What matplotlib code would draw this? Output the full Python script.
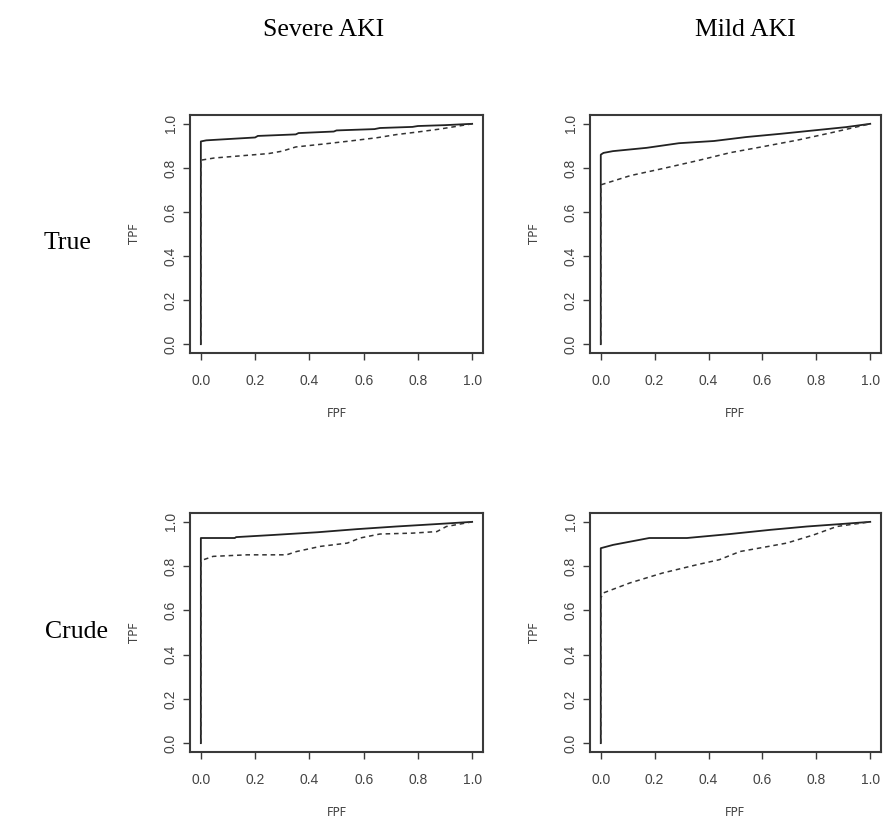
import matplotlib.pyplot as plt

# ROC curves: FPF / TPF pairs
# solid = first marker, dashed = second marker
sev_true_fpf_a = [0, 0, 0.02, 0.20, 0.21, 0.35, 0.36, 0.49, 0.50, 0.64, 0.66, 0.78, 0.80, 0.90, 1.0]
sev_true_tpf_a = [0, 0.92, 0.925, 0.938, 0.945, 0.952, 0.958, 0.965, 0.970, 0.976, 0.981, 0.986, 0.990, 0.994, 1.0]
sev_true_fpf_b = [0, 0, 0.05, 0.15, 0.25, 0.30, 0.35, 0.45, 0.55, 0.65, 0.72, 0.80, 0.88, 1.0]
sev_true_tpf_b = [0, 0.835, 0.845, 0.855, 0.865, 0.876, 0.895, 0.908, 0.922, 0.937, 0.951, 0.963, 0.976, 1.0]

mild_true_fpf_a = [0, 0, 0.01, 0.045, 0.17, 0.29, 0.42, 0.54, 0.67, 0.79, 0.91, 1.0]
mild_true_tpf_a = [0, 0.86, 0.868, 0.876, 0.891, 0.912, 0.922, 0.940, 0.955, 0.970, 0.985, 1.0]
mild_true_fpf_b = [0, 0, 0.11, 0.23, 0.356, 0.48, 0.60, 0.73, 0.85, 1.0]
mild_true_tpf_b = [0, 0.723, 0.765, 0.797, 0.832, 0.869, 0.896, 0.926, 0.958, 1.0]

sev_crude_fpf_a = [0, 0, 0.125, 0.13, 0.27, 0.43, 0.575, 0.72, 0.87, 1.0]
sev_crude_tpf_a = [0, 0.927, 0.927, 0.931, 0.941, 0.953, 0.967, 0.979, 0.990, 1.0]
sev_crude_fpf_b = [0, 0, 0.01, 0.045, 0.17, 0.316, 0.353, 0.44, 0.54, 0.587, 0.66, 0.78, 0.87, 0.905, 1.0]
sev_crude_tpf_b = [0, 0.814, 0.829, 0.844, 0.851, 0.851, 0.866, 0.889, 0.904, 0.927, 0.945, 0.949, 0.956, 0.979, 1.0]

mild_crude_fpf_a = [0, 0, 0.046, 0.18, 0.32, 0.48, 0.63, 0.765, 0.89, 1.0]
mild_crude_tpf_a = [0, 0.881, 0.896, 0.927, 0.927, 0.945, 0.964, 0.979, 0.990, 1.0]
mild_crude_fpf_b = [0, 0, 0.01, 0.108, 0.23, 0.356, 0.44, 0.517, 0.60, 0.69, 0.79, 0.876, 1.0]
mild_crude_tpf_b = [0, 0.656, 0.679, 0.724, 0.769, 0.806, 0.829, 0.866, 0.884, 0.904, 0.941, 0.979, 1.0]

col_titles = ["Severe AKI", "Mild AKI"]
row_titles = ["True", "Crude"]
ticks = [0.0, 0.2, 0.4, 0.6, 0.8, 1.0]
tick_labels = ["0.0", "0.2", "0.4", "0.6", "0.8", "1.0"]

panels = [
    (sev_true_fpf_a, sev_true_tpf_a, sev_true_fpf_b, sev_true_tpf_b),
    (mild_true_fpf_a, mild_true_tpf_a, mild_true_fpf_b, mild_true_tpf_b),
    (sev_crude_fpf_a, sev_crude_tpf_a, sev_crude_fpf_b, sev_crude_tpf_b),
    (mild_crude_fpf_a, mild_crude_tpf_a, mild_crude_fpf_b, mild_crude_tpf_b),
]

W, H = 884, 823
fig = plt.figure(figsize=(W / 100, H / 100), dpi=100)

# axes boxes in pixels: left, top, right, bottom
boxes = [(190, 115, 483, 353), (590, 115, 881, 353),
         (190, 513, 483, 752), (590, 513, 881, 752)]

frame_col = "#3a3a3a"
for (x0, y0, x1, y1), (fa, ta, fb, tb) in zip(boxes, panels):
    ax = fig.add_axes([x0 / W, 1 - y1 / H, (x1 - x0) / W, (y1 - y0) / H])
    ax.plot(fa, ta, color="#222222", lw=1.3)
    ax.plot(fb, tb, color="#333333", lw=1.1, ls=(0, (3, 2.5)))
    ax.set_xlim(-0.04, 1.04)
    ax.set_ylim(-0.04, 1.04)
    ax.set_xticks(ticks)
    ax.set_yticks(ticks)
    ax.set_xticklabels(tick_labels)
    ax.set_yticklabels(tick_labels, rotation=90, va="center")
    ax.tick_params(direction="out", length=5, width=1.0, color=frame_col,
                   labelsize=10, labelcolor="#444444")
    ax.tick_params(axis="x", pad=10)
    ax.tick_params(axis="y", pad=4)
    for sp in ax.spines.values():
        sp.set_color(frame_col)
        sp.set_linewidth(1.5)
    ax.set_xlabel("FPF", fontsize=8.5, color="#444444", labelpad=14)
    ax.set_ylabel("TPF", fontsize=8.5, color="#444444", labelpad=16)
    for t in ax.get_xticklabels() + ax.get_yticklabels():
        t.set_family("Liberation Sans")

serif = "Liberation Serif"
fig.text(324 / W, 1 - 30 / H, col_titles[0], ha="center", va="center", fontsize=18.5, family=serif)
fig.text(745 / W, 1 - 30 / H, col_titles[1], ha="center", va="center", fontsize=18.5, family=serif)
fig.text(68 / W, 1 - 243 / H, row_titles[0], ha="center", va="center", fontsize=18.5, family=serif)
fig.text(76 / W, 1 - 632 / H, row_titles[1], ha="center", va="center", fontsize=18.5, family=serif)

fig.savefig("out.png", dpi=100)
